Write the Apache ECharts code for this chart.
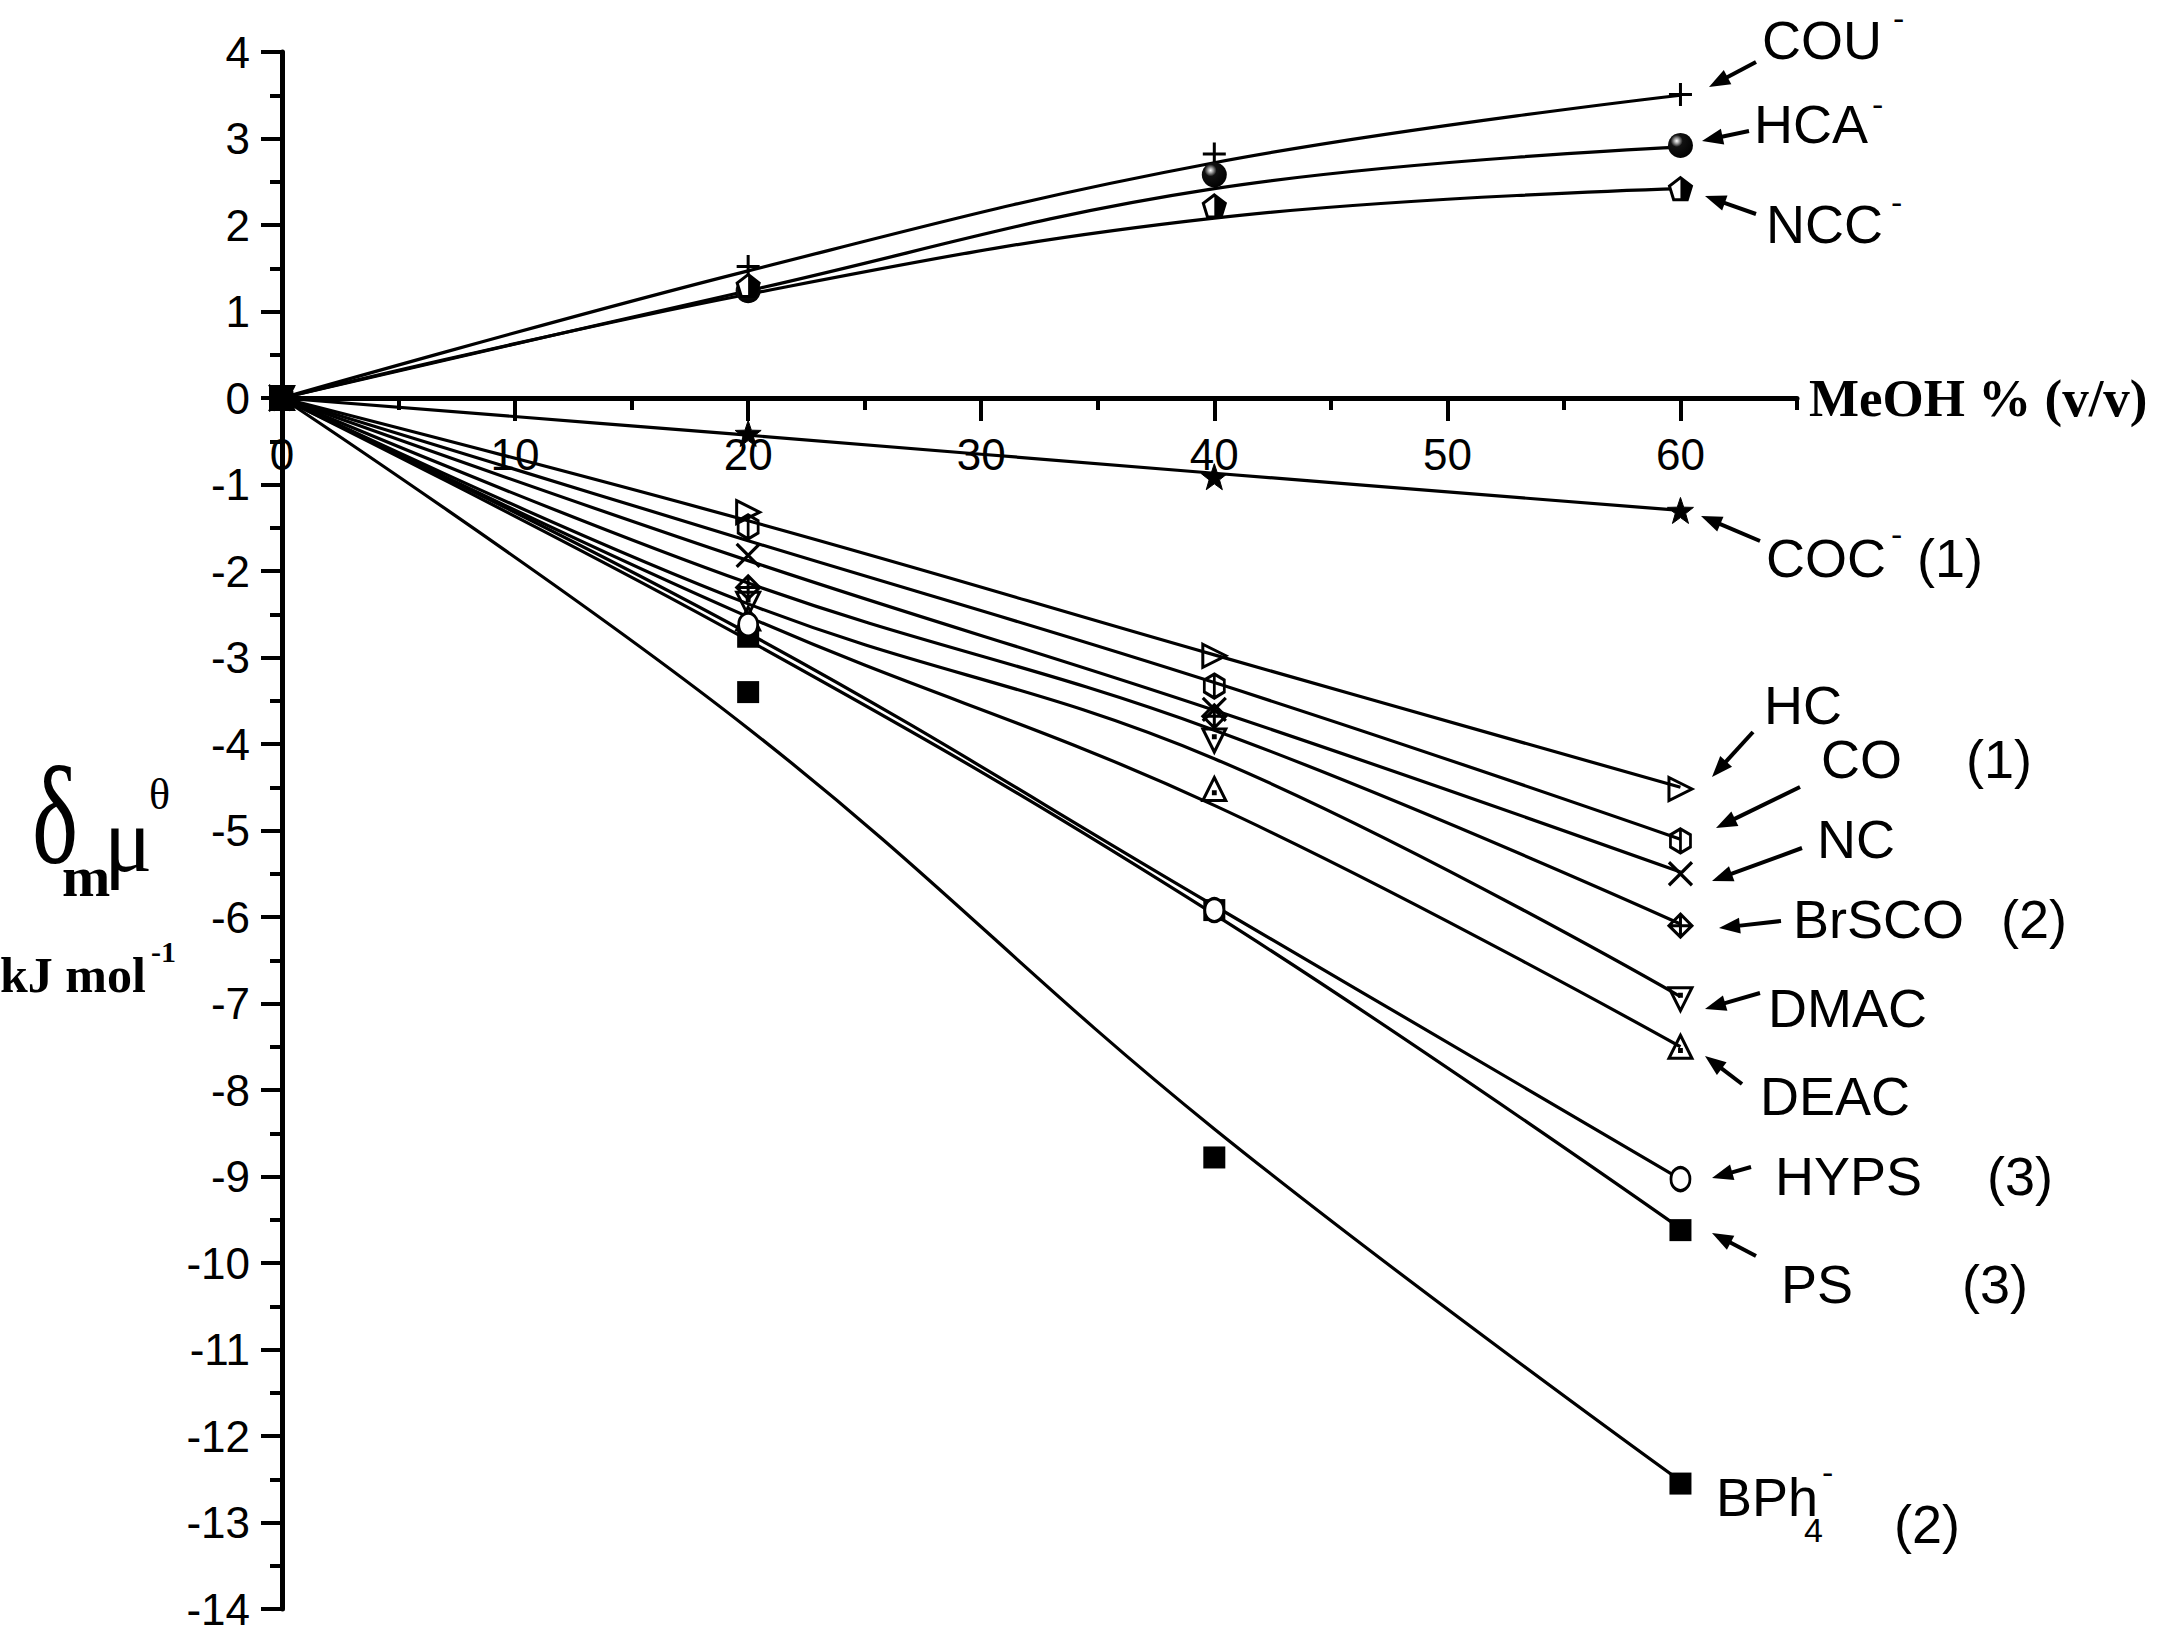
<!DOCTYPE html>
<html><head><meta charset="utf-8">
<script src="https://cdn.jsdelivr.net/npm/echarts@6/dist/echarts.min.js"></script>
<style>html,body{margin:0;padding:0;background:#fff}#c{width:2165px;height:1637px}</style>
</head><body><div id="c"></div>
<script>
// ---------- DATA ----------
const xValues = [0, 20, 40, 60];
const xTickLabels = [0, 10, 20, 30, 40, 50, 60];
// measured points (markers)
const COU_pts   = [0, 1.52, 2.82, 3.51];
const HCA_pts   = [0, 1.24, 2.58, 2.92];
const NCC_pts   = [0, 1.30, 2.22, 2.42];
const COC_pts   = [0, -0.41, -0.91, -1.30];
const HC_pts    = [0, -1.32, -2.98, -4.52];
const CO_pts    = [0, -1.49, -3.33, -5.12];
const NC_pts    = [0, -1.82, -3.60, -5.50];
const BrSCO_pts = [0, -2.19, -3.68, -6.10];
const DMAC_pts  = [0, -2.38, -3.96, -6.95];
const DEAC_pts  = [0, -2.55, -4.52, -7.50];
const HYPS_pts  = [0, -2.62, -5.92, -9.03];
const PS_pts    = [0, -2.76, -5.92, -9.62];
const BPh4_pts  = [0, -3.40, -8.78, -12.55];
// fitted curves at the same x values
const COU_fit   = [0, 1.47, 2.72, 3.50];
const HCA_fit   = [0, 1.24, 2.42, 2.90];
const NCC_fit   = [0, 1.20, 2.08, 2.42];
const COC_fit   = [0, -0.43, -0.87, -1.30];
const HC_fit    = [0, -1.42, -2.97, -4.50];
const CO_fit    = [0, -1.65, -3.29, -5.10];
const NC_fit    = [0, -1.88, -3.61, -5.48];
const BrSCO_fit = [0, -2.14, -3.84, -6.08];
const DMAC_fit  = [0, -2.38, -4.17, -6.92];
const DEAC_fit  = [0, -2.53, -4.71, -7.50];
const HYPS_fit  = [0, -2.72, -5.87, -9.03];
const PS_fit    = [0, -2.80, -5.97, -9.60];
const BPh4_fit  = [0, -3.82, -8.45, -12.52];

// ---------- STYLE ----------
const SYM = {
  plus: 'path://M0,-10L0,10M-10,0L10,0',
  star: 'path://M0,-10L2.35,-3.24L9.51,-3.09L3.8,1.24L5.88,8.09L0,4L-5.88,8.09L-3.8,1.24L-9.51,-3.09L-2.35,-3.24Z',
  triRight: 'path://M-8,-10L10,0L-8,10Z',
  hexBar: 'path://M0,-10L8.66,-5L8.66,5L0,10L-8.66,5L-8.66,-5ZM0,-10L0,10',
  cross: 'path://M-10,-10L10,10M-10,10L10,-10',
  diamondPlus: 'path://M0,-10L10,0L0,10L-10,0ZM0,-10L0,10M-10,0L10,0',
  triDownDot: 'path://M-10,-8L10,-8L0,10ZM-0.8,-2.8L0.8,-2.8L0.8,-1.2L-0.8,-1.2Z',
  triUpDot: 'path://M0,-10L10,8L-10,8ZM-0.8,1.2L0.8,1.2L0.8,2.8L-0.8,2.8Z',
  pentagon: 'path://M0,-10L9.51,-3.09L5.88,8.09L-5.88,8.09L-9.51,-3.09Z',
  pentHalf: 'path://M0,-10L9.51,-3.09L5.88,8.09L0,8.09ZM-9.51,8.09'
};
const sphere = {type:'radial', x:0.35, y:0.32, r:0.75, colorStops:[
  {offset:0, color:'#ffffff'}, {offset:0.12, color:'#aaaaaa'}, {offset:0.32, color:'#111'}, {offset:1, color:'#000'}]};

const groups = [
  {pts:COU_pts,   fit:COU_fit,   marks:[{symbol:SYM.plus, size:23, color:'transparent', bw:3}]},
  {pts:HCA_pts,   fit:HCA_fit,   marks:[{symbol:'circle', size:25, color:sphere, bw:0}]},
  {pts:NCC_pts,   fit:NCC_fit,   marks:[{symbol:SYM.pentagon, size:22, color:'#fff', bw:3},{symbol:SYM.pentHalf, size:22, color:'#000', bw:0}]},
  {pts:COC_pts,   fit:COC_fit,   marks:[{symbol:SYM.star, size:26, color:'#000', bw:1}]},
  {pts:HC_pts,    fit:HC_fit,    marks:[{symbol:SYM.triRight, size:23, color:'transparent', bw:3}]},
  {pts:CO_pts,    fit:CO_fit,    marks:[{symbol:SYM.hexBar, size:[20,24], color:'transparent', bw:3}]},
  {pts:NC_pts,    fit:NC_fit,    marks:[{symbol:SYM.cross, size:23, color:'transparent', bw:3.2}]},
  {pts:BrSCO_pts, fit:BrSCO_fit, marks:[{symbol:SYM.diamondPlus, size:23, color:'transparent', bw:3}]},
  {pts:DMAC_pts,  fit:DMAC_fit,  marks:[{symbol:SYM.triDownDot, size:23, color:'transparent', bw:3}]},
  {pts:DEAC_pts,  fit:DEAC_fit,  marks:[{symbol:SYM.triUpDot, size:23, color:'transparent', bw:3}]},
  {pts:PS_pts,    fit:PS_fit,    marks:[{symbol:'rect', size:22, color:'#000', bw:0}]},
  {pts:HYPS_pts,  fit:HYPS_fit,  marks:[{symbol:'circle', size:[19,23], color:'#fff', bw:3}]},
  {pts:BPh4_pts,  fit:BPh4_fit,  marks:[{symbol:'rect', size:22, color:'#000', bw:0}]}
];

const series = [];
groups.forEach((g, gi) => {
  series.push({type:'line', xAxisIndex:0, data:xValues.map((x,i)=>[x,g.fit[i]]), smooth:0.4,
    showSymbol:false, symbol:'none', lineStyle:{color:'#000', width:3.2}, z:2, silent:true});
});
groups.forEach((g, gi) => {
  g.marks.forEach((m, mi) => {
    series.push({type:'scatter', xAxisIndex:0, data:xValues.map((x,i)=>[x,g.pts[i]]), symbol:m.symbol, symbolSize:m.size,
      itemStyle:{color:m.color, borderColor:'#000', borderWidth:m.bw, opacity:1}, z:3+gi*0.01+mi*0.001, silent:true});
  });
});

// ---------- ANNOTATIONS (pixel layout) ----------
const SANS = '"Liberation Sans", Arial, sans-serif';
const SERIF = '"Liberation Serif", "Times New Roman", serif';
// [text, x, y, fontSize, family, weight, scaleY]
const texts = [
  ['COU',1762,40,54,SANS,''],['-',1893,18,34,SANS,''],
  ['HCA',1754,124,54,SANS,''],['-',1872,104,34,SANS,''],
  ['NCC',1766,224,54,SANS,''],['-',1891,202,34,SANS,''],
  ['COC',1766,558,54,SANS,''],['-',1891,534,34,SANS,''],['(1)',1917,558,54,SANS,''],
  ['HC',1764,705,54,SANS,''],
  ['CO',1821,759,54,SANS,''],['(1)',1966,759,54,SANS,''],
  ['NC',1817,839,54,SANS,''],
  ['BrSCO',1793,919,54,SANS,''],['(2)',2001,919,54,SANS,''],
  ['DMAC',1768,1008,54,SANS,''],
  ['DEAC',1760,1096,54,SANS,''],
  ['HYPS',1775,1176,54,SANS,''],['(3)',1987,1176,54,SANS,''],
  ['PS',1781,1284,54,SANS,''],['(3)',1962,1284,54,SANS,''],
  ['BPh',1716,1497,54,SANS,''],['4',1804,1530,34,SANS,''],['-',1822,1472,34,SANS,''],['(2)',1894,1524,54,SANS,''],
  // y-axis title
  ['δ',32,816,98,SERIF,'',1.42],['m',62,876,58,SERIF,'bold'],['μ',104,840,90,SERIF,''],['θ',149,794,44,SERIF,''],
  ['kJ mol',0,975,50,SERIF,'bold'],['-1',151,951,30,SERIF,'bold']
];
const arrows = [
  [1756,62,1709,87],[1749,131,1702,141],[1756,214,1705,196],[1760,541,1701,516],
  [1753,732,1712,777],[1800,787,1716,828],[1802,848,1712,881],[1781,921,1719,928],
  [1760,993,1705,1009],[1742,1084,1705,1056],[1751,1167,1712,1178],[1756,1256,1712,1233]
];
const graphic = [];
texts.forEach(t => graphic.push({type:'text', silent:true, z:50, x:t[1], y:t[2], scaleY:t[6]||1,
  style:{text:t[0], x:0, y:0, font:(t[5]? t[5]+' ':'') + t[3]+'px '+t[4], fill:'#000', align:'left', verticalAlign:'middle'}}));
arrows.forEach(a => {
  const [x1,y1,x2,y2]=a, dx=x2-x1, dy=y2-y1, L=Math.hypot(dx,dy), ux=dx/L, uy=dy/L, hl=21, hw=8;
  const bx=x2-ux*hl, by=y2-uy*hl;
  graphic.push({type:'line', silent:true, z:50, shape:{x1,y1,x2:bx+ux*2,y2:by+uy*2}, style:{stroke:'#000', lineWidth:4}});
  graphic.push({type:'polygon', silent:true, z:50, shape:{points:[[x2,y2],[bx-uy*hw,by+ux*hw],[bx+uy*hw,by-ux*hw]]}, style:{fill:'#000'}});
});

const GRID_TOP = 52, GRID_BOTTOM = 28, ZERO_OFFSET = -1211; // x axis drawn on the y = 0 line
const axisFont = {fontSize:44, color:'#000', fontFamily:SANS};
const option = {
  animation:false,
  backgroundColor:'#fff',
  grid:{left:282, right:368, top:GRID_TOP, bottom:GRID_BOTTOM, containLabel:false, outerBoundsMode:'none'},
  xAxis:[
    {type:'value', position:'bottom', offset:ZERO_OFFSET, min:0, max:65, interval:5,
     axisLine:{show:true, onZero:false, lineStyle:{color:'#000', width:5}},
     axisTick:{show:true, length:12, lineStyle:{color:'#000', width:4}},
     axisLabel:{show:true, customValues:xTickLabels, margin:34, ...axisFont},
     splitLine:{show:false},
     name:'MeOH % (v/v)', nameLocation:'end', nameGap:12,
     nameTextStyle:{fontSize:53, fontWeight:'bold', fontFamily:SERIF, color:'#000', verticalAlign:'middle', align:'left', padding:[0,0,12,0]}},
    {type:'value', position:'bottom', offset:ZERO_OFFSET, min:0, max:65, interval:10,
     axisLine:{show:false, onZero:false},
     axisTick:{show:true, length:23, customValues:xTickLabels, lineStyle:{color:'#000', width:4}},
     axisLabel:{show:false}, splitLine:{show:false}}
  ],
  yAxis:{type:'value', min:-14, max:4, interval:1,
    axisLine:{show:true, onZero:false, lineStyle:{color:'#000', width:5}},
    axisTick:{show:true, length:21, lineStyle:{color:'#000', width:4}},
    minorTick:{show:true, splitNumber:2, length:12, lineStyle:{color:'#000', width:4}},
    axisLabel:{margin:32, ...axisFont},
    splitLine:{show:false}, minorSplitLine:{show:false}},
  series:series,
  graphic:graphic
};
const chart = echarts.init(document.getElementById('c'), null, {renderer:'svg', width:2165, height:1637});
chart.setOption(option);
</script>
</body></html>
